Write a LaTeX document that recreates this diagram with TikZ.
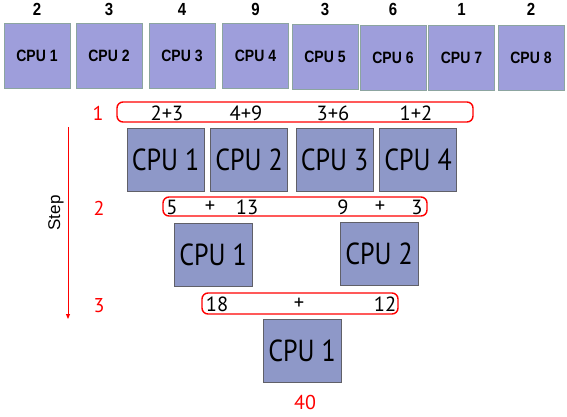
\documentclass[tikz,border=0pt]{standalone}
\usepackage{graphicx}
\usepackage{fontspec}
\setmainfont{PT Sans}
\newfontfamily\arialfont{Liberation Sans}
\usetikzlibrary{arrows.meta}
\definecolor{topfill}{RGB}{158,158,219}
\definecolor{topline}{RGB}{140,165,160}
\definecolor{stepfill}{RGB}{142,152,200}
\definecolor{stepline}{RGB}{96,96,104}
\newcommand{\stretchy}[1]{\scalebox{1}[1.17]{#1}}
\tikzset{
  topbox/.style={draw=topline, fill=topfill, line width=0.9pt, minimum width=66pt, minimum height=65pt, inner sep=0pt,
    font=\arialfont\bfseries\fontsize{14}{16}\selectfont},
  topnum/.style={inner sep=0pt, font=\arialfont\bfseries\fontsize{15}{17}\selectfont},
  cpubox/.style={draw=stepline, fill=stepfill, line width=0.8pt, minimum width=77pt, minimum height=63pt, inner sep=0pt,
    font=\fontsize{26}{29}\selectfont},
  sumbox/.style={draw=red, line width=1.4pt, rounded corners=6pt, inner sep=0pt},
  sumtxt/.style={inner sep=0pt, font=\fontsize{20.5}{23}\selectfont},
  steplbl/.style={inner sep=0pt, text=red, font=\fontsize{20}{22}\selectfont},
}
\begin{document}
\begin{tikzpicture}[x=1pt,y=-1pt]
\useasboundingbox (0,0) rectangle (567,416);
% top row
\foreach \i/\x/\y/\v in {1/37/55.5/2, 2/109/55.5/3, 3/182/55.5/4, 4/255.5/55.5/9, 5/325/56.5/3, 6/393/58/6, 7/461.5/58/1, 8/531/58/2} {
  \node[topbox] (t\i) at (\x,\y) {\stretchy{CPU \i}};
  \node[topnum] (n\i) at (\x,9) {\stretchy{\v}};
}
% step 1
\node[sumbox, minimum width=356pt, minimum height=20pt] (r1) at (295,112) {};
\node[sumtxt] (s11) at (167,113) {2+3};
\node[sumtxt] (s12) at (246,113) {4+9};
\node[sumtxt] (s13) at (333,113) {3+6};
\node[sumtxt] (s14) at (416,113) {1+2};
\node[cpubox] (a1) at (165.5,159.5) {\stretchy{CPU 1}};
\node[cpubox] (a2) at (249,159.5) {\stretchy{CPU 2}};
\node[cpubox] (a3) at (334.5,159.5) {\stretchy{CPU 3}};
\node[cpubox] (a4) at (418,159.5) {\stretchy{CPU 4}};
% step 2
\node[sumbox, minimum width=264pt, minimum height=19pt] (r2) at (295,206.5) {};
\node[sumtxt] (s21) at (172,207) {5};
\node[sumtxt] (s22) at (210,207) {+};
\node[sumtxt] (s23) at (247,207) {13};
\node[sumtxt] (s24) at (343,207) {9};
\node[sumtxt] (s25) at (380,207) {+};
\node[sumtxt] (s26) at (417,207) {3};
\node[cpubox, minimum width=78pt] (b1) at (213,254.5) {\stretchy{CPU 1}};
\node[cpubox, minimum width=78pt] (b2) at (379,253.5) {\stretchy{CPU 2}};
% step 3
\node[sumbox, minimum width=196pt, minimum height=21pt] (r3) at (300,303.5) {};
\node[sumtxt] (s31) at (217,304) {18};
\node[sumtxt] (s32) at (299,304) {+};
\node[sumtxt] (s33) at (385,304) {12};
\node[cpubox, minimum width=78pt] (c1) at (302,350.5) {\stretchy{CPU 1}};
\node[steplbl] (res) at (305,402) {40};
% step labels
\node[steplbl] (l1) at (98,113) {1};
\node[steplbl] (l2) at (99,208) {2};
\node[steplbl] (l3) at (99,306) {3};
\coordinate (ar0) at (68,127);
\coordinate (ar1) at (68,319);
\draw[red, line width=0.9pt, -{Triangle[length=5pt,width=4pt]}] (ar0) -- (ar1);
\node[inner sep=0pt, rotate=90, font=\arialfont\fontsize{17}{20}\selectfont] (stp) at (56,213) {Step};
\end{tikzpicture}
\end{document}
